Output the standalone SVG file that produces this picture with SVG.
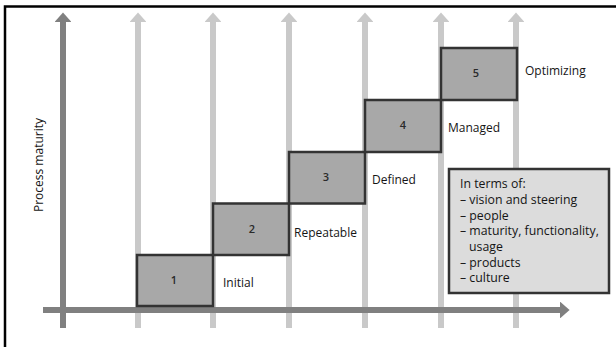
<svg xmlns="http://www.w3.org/2000/svg" width="616" height="347" viewBox="0 0 616 347">
  <style>
    .frame { fill: none; stroke: #000; stroke-width: 2.5; }
    .grid { stroke: #c9c9c9; stroke-width: 6; fill: none; }
    .axis { stroke: #808080; stroke-width: 6; fill: none; }
    .level rect { fill: #a8a8a8; stroke: #333; stroke-width: 2.5; }
    .num { font-family: "Open Sans", "Noto Sans", sans-serif; font-size: 11px; font-weight: 600; fill: #2a2a2a; text-anchor: middle; }
    .lbl { font-family: "Open Sans", "Noto Sans", sans-serif; font-size: 12px; fill: #151515; }
    .legend rect { fill: #dcdcdc; stroke: #333; stroke-width: 2.5; }
    .legend text { font-family: "Open Sans", "Noto Sans", sans-serif; font-size: 12.3px; fill: #151515; }
  </style>
  <defs>
    <marker id="headLight" markerWidth="1.6" markerHeight="2.8" refX="0" refY="1.4" orient="auto" markerUnits="strokeWidth">
      <path d="M0,0 L1.6,1.4 L0,2.8 Z" fill="#c9c9c9"/>
    </marker>
    <marker id="headDark" markerWidth="1.6" markerHeight="2.8" refX="0" refY="1.4" orient="auto" markerUnits="strokeWidth">
      <path d="M0,0 L1.6,1.4 L0,2.8 Z" fill="#808080"/>
    </marker>
  </defs>
  <rect width="616" height="347" fill="#fff"/>
  <!-- page frame, open at right and bottom -->
  <path class="frame" d="M5,347 V6.5 H616"/>

  <g id="connectors">
    <!-- level guide lines -->
    <line class="grid" x1="138" y1="328" x2="138" y2="22" marker-end="url(#headLight)"/>
    <line class="grid" x1="213" y1="328" x2="213" y2="22" marker-end="url(#headLight)"/>
    <line class="grid" x1="289" y1="328" x2="289" y2="22" marker-end="url(#headLight)"/>
    <line class="grid" x1="365" y1="328" x2="365" y2="22" marker-end="url(#headLight)"/>
    <line class="grid" x1="441" y1="328" x2="441" y2="22" marker-end="url(#headLight)"/>
    <line class="grid" x1="516" y1="328" x2="516" y2="22" marker-end="url(#headLight)"/>
    <!-- main axes -->
    <line class="axis" x1="63" y1="328" x2="63" y2="22" marker-end="url(#headDark)"/>
    <line class="axis" x1="43" y1="310" x2="560" y2="310" marker-end="url(#headDark)"/>
  </g>

  <text transform="translate(43,165) rotate(-90)" class="lbl" text-anchor="middle" font-size="10.6">Process maturity</text>

  <g id="level1" class="level">
    <rect x="137" y="255" width="76" height="51"/>
    <text class="num" x="174" y="284">1</text>
    <text class="lbl" x="223" y="287">Initial</text>
  </g>
  <g id="level2" class="level">
    <rect x="213" y="203.5" width="76" height="51.5"/>
    <text class="num" x="252" y="233">2</text>
    <text class="lbl" x="294" y="237">Repeatable</text>
  </g>
  <g id="level3" class="level">
    <rect x="289" y="152" width="76" height="51.5"/>
    <text class="num" x="326" y="181">3</text>
    <text class="lbl" x="372" y="184">Defined</text>
  </g>
  <g id="level4" class="level">
    <rect x="365" y="100" width="76" height="52"/>
    <text class="num" x="403" y="129">4</text>
    <text class="lbl" x="448" y="132">Managed</text>
  </g>
  <g id="level5" class="level">
    <rect x="441" y="48" width="76" height="52"/>
    <text class="num" x="476" y="77">5</text>
    <text class="lbl" x="525" y="75">Optimizing</text>
  </g>

  <g id="legend" class="legend">
    <rect x="449" y="169" width="160" height="124"/>
    <text x="460" y="188">In terms of:</text>
    <text x="460" y="204">– vision and steering</text>
    <text x="460" y="219.5">– people</text>
    <text x="460" y="235">– maturity, functionality,</text>
    <text x="469" y="251">usage</text>
    <text x="460" y="266.5">– products</text>
    <text x="460" y="282">– culture</text>
  </g>
</svg>
